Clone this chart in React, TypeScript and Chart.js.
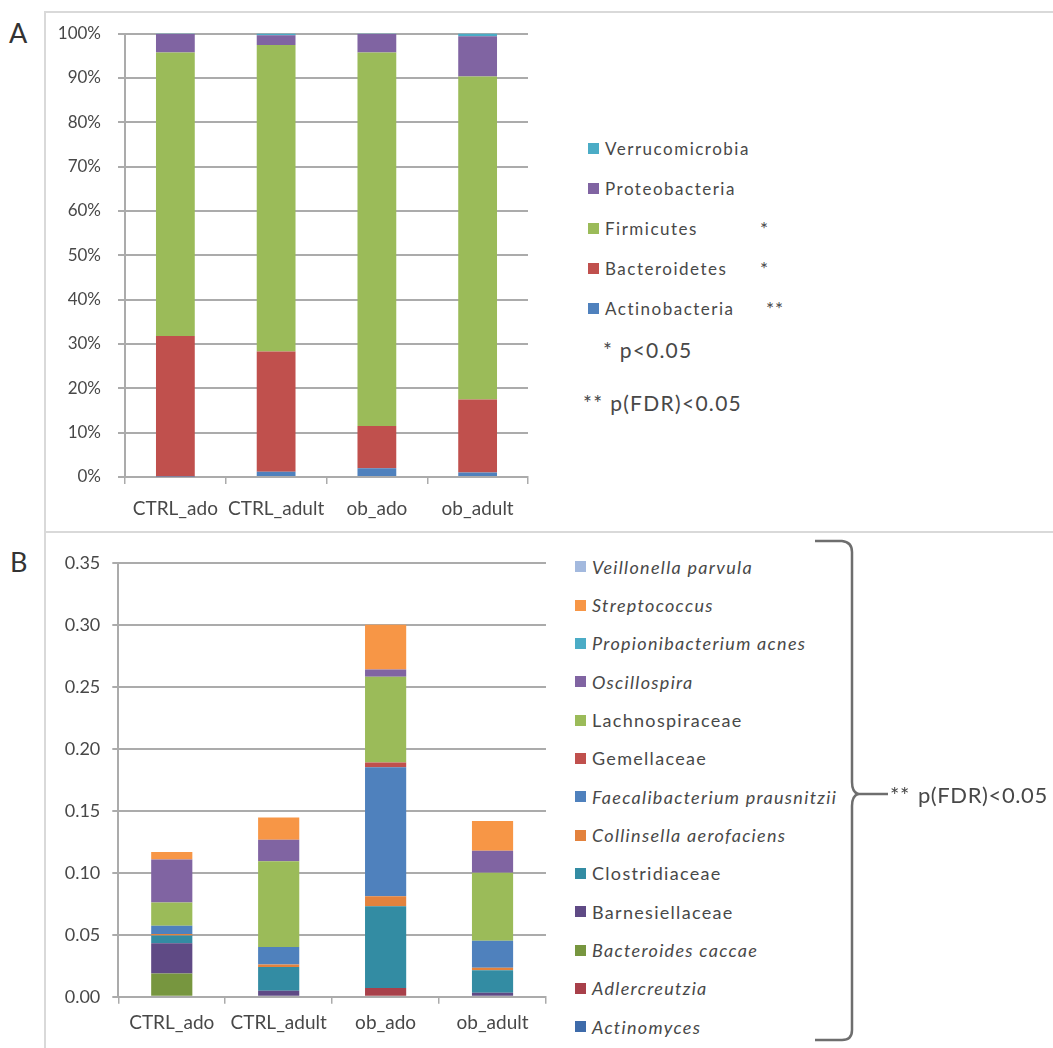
import React, { useEffect, useRef } from 'react';
import { Chart, registerables } from 'chart.js';

Chart.register(...registerables);

// ---------- shared categories ----------
const groups = ['CTRL_ado', 'CTRL_adult', 'ob_ado', 'ob_adult'];

// ---------- panel A: phyla (percent, stacked bottom -> top) ----------
const phyla = ['Actinobacteria', 'Bacteroidetes', 'Firmicutes', 'Proteobacteria', 'Verrucomicrobia'];
const phylumStars = ['**', '*', '*', '', ''];
const phylumColors = ['#4F81BD', '#C0504D', '#9BBB59', '#8064A2', '#4BACC6'];
const actinobacteria = [0.1, 1.2, 2.0, 1.0];
const bacteroidetes = [31.7, 27.1, 9.5, 16.5];
const firmicutes = [63.9, 69.1, 84.2, 72.8];
const proteobacteria = [4.2, 2.2, 4.2, 9.1];
const verrucomicrobia = [0.1, 0.4, 0.1, 0.6];
const phylumValues = [actinobacteria, bacteroidetes, firmicutes, proteobacteria, verrucomicrobia];
const percentTicks = [0, 10, 20, 30, 40, 50, 60, 70, 80, 90, 100];

// ---------- panel B: taxa (relative abundance, stacked bottom -> top) ----------
const taxa = [
  'Actinomyces',
  'Adlercreutzia',
  'Bacteroides caccae',
  'Barnesiellaceae',
  'Clostridiaceae',
  'Collinsella aerofaciens',
  'Faecalibacterium prausnitzii',
  'Gemellaceae',
  'Lachnospiraceae',
  'Oscillospira',
  'Propionibacterium acnes',
  'Streptococcus',
  'Veillonella parvula',
];
const taxaItalic = [true, true, true, false, false, true, true, false, false, true, true, true, true];
const taxaColors = [
  '#3E6BAA', '#A8404A', '#77963F', '#5F4A85', '#338CA3', '#E3823D', '#4F81BD',
  '#C0504D', '#9BBB59', '#8064A2', '#4BACC6', '#F79646', '#A3B9DE',
];
const actinomyces = [0, 0, 0, 0];
const adlercreutzia = [0, 0, 0.007, 0];
const bacteroidesCaccae = [0.0187, 0, 0, 0];
const barnesiellaceae = [0.0245, 0.0048, 0, 0.0032];
const clostridiaceae = [0.0061, 0.0192, 0.066, 0.0181];
const collinsella = [0.0013, 0.0019, 0.008, 0.002];
const faecalibacterium = [0.0067, 0.0141, 0.104, 0.0219];
const gemellaceae = [0, 0, 0.004, 0];
const lachnospiraceae = [0.0187, 0.0693, 0.069, 0.0547];
const oscillospira = [0.0347, 0.0173, 0.006, 0.0179];
const propionibacterium = [0, 0, 0, 0];
const streptococcus = [0.0061, 0.0179, 0.036, 0.024];
const veillonella = [0, 0, 0, 0];
const taxaValues = [
  actinomyces, adlercreutzia, bacteroidesCaccae, barnesiellaceae, clostridiaceae, collinsella,
  faecalibacterium, gemellaceae, lachnospiraceae, oscillospira, propionibacterium, streptococcus, veillonella,
];
const abundanceTicks = [0, 0.05, 0.1, 0.15, 0.2, 0.25, 0.3, 0.35];

// ---------- styling ----------
const FONT = 'Lato, "Open Sans", sans-serif';
const TEXT = '#484848';
const GRID = '#ababab';

function makeConfig(opts: {
  names: string[];
  colors: string[];
  values: number[][];
  ticks: number[];
  fmt: (v: number) => string;
  yWidth: number;
  xHeight: number;
  padTop: number;
  padRight: number;
  yPad: number;
  xPad: number;
  tickLen: number;
  xFont: number;
  yFont: number;
}): any {
  return {
    type: 'bar',
    data: {
      labels: groups,
      datasets: opts.names.map((n, i) => ({
        label: n,
        data: opts.values[i],
        backgroundColor: opts.colors[i],
        borderWidth: 0,
        categoryPercentage: 1,
        barPercentage: 0.385,
      })),
    },
    options: {
      animation: false,
      responsive: false,
      devicePixelRatio: 1,
      layout: { padding: { left: 0, right: opts.padRight, top: opts.padTop, bottom: 0 } },
      plugins: { legend: { display: false }, tooltip: { enabled: false } },
      scales: {
        x: {
          stacked: true,
          offset: true,
          grid: { display: true, drawOnChartArea: false, drawTicks: true, tickLength: 7, color: GRID, lineWidth: 1.5, offset: true },
          border: { display: true, color: GRID, width: 2 },
          ticks: { font: { family: FONT, size: opts.xFont }, color: TEXT, padding: opts.xPad, maxRotation: 0, autoSkip: false },
          afterFit: (s: any) => { s.height = opts.xHeight; },
        },
        y: {
          stacked: true,
          min: opts.ticks[0],
          max: opts.ticks[opts.ticks.length - 1],
          afterBuildTicks: (s: any) => { s.ticks = opts.ticks.map((v) => ({ value: v })); },
          ticks: { font: { family: FONT, size: opts.yFont }, color: TEXT, padding: opts.yPad, callback: (v: any) => opts.fmt(Number(v)) },
          grid: { color: GRID, lineWidth: 2, tickLength: opts.tickLen },
          border: { display: true, color: GRID, width: 2 },
          afterFit: (s: any) => { s.width = opts.yWidth; },
        },
      },
    },
  };
}

function ChartCanvas({ config, left, top, width, height }: any) {
  const ref = useRef<HTMLCanvasElement>(null);
  useEffect(() => {
    const chart = new Chart(ref.current as HTMLCanvasElement, config);
    return () => chart.destroy();
  }, []);
  return (
    <canvas
      ref={ref}
      width={width}
      height={height}
      style={{ position: 'absolute', left, top, width, height }}
    />
  );
}

function Swatch({ color }: { color: string }) {
  return <span style={{ display: 'inline-block', width: 11, height: 11, background: color, marginRight: 6, flex: '0 0 auto' }} />;
}

export default function App() {
  const configA = makeConfig({
    names: phyla,
    colors: phylumColors,
    values: phylumValues,
    ticks: percentTicks,
    fmt: (v) => `${Math.round(v)}%`,
    yWidth: 125,
    xHeight: 53,
    padTop: 33.5,
    padRight: 32,
    yPad: 17,
    xPad: 13,
    tickLen: 7,
    xFont: 19,
    yFont: 17,
  });
  const configB = makeConfig({
    names: taxa,
    colors: taxaColors,
    values: taxaValues,
    ticks: abundanceTicks,
    fmt: (v) => v.toFixed(2),
    yWidth: 118.3,
    xHeight: 51.3,
    padTop: 19.2,
    padRight: 14,
    yPad: 12,
    xPad: 8,
    tickLen: 6,
    xFont: 19,
    yFont: 18,
  });

  const legendA = phyla.map((n, i) => ({ n, c: phylumColors[i], s: phylumStars[i] })).reverse();
  const legendB = taxa.map((n, i) => ({ n, c: taxaColors[i], it: taxaItalic[i] })).reverse();

  return (
    <div
      style={{
        position: 'absolute', left: 0, top: 0, width: 1053, height: 1048,
        background: '#fff', overflow: 'hidden', fontFamily: FONT, color: TEXT,
      }}
    >
      {/* frame lines */}
      <div style={{ position: 'absolute', left: 44, top: 11, width: 2, height: 1037, background: '#d9d9d9' }} />
      <div style={{ position: 'absolute', left: 44, top: 11, width: 1009, height: 2, background: '#d9d9d9' }} />
      <div style={{ position: 'absolute', left: 44, top: 531, width: 1009, height: 2, background: '#d9d9d9' }} />

      {/* panel letters */}
      <div style={{ position: 'absolute', left: 9, top: 18, fontSize: 27, lineHeight: '30px', color: '#333' }}>A</div>
      <div style={{ position: 'absolute', left: 10, top: 547, fontSize: 27, lineHeight: '30px', color: '#333' }}>B</div>

      <ChartCanvas config={configA} left={0} top={0} width={560} height={530} />
      <ChartCanvas config={configB} left={0} top={540} width={560} height={508} />

      {/* legend A */}
      {legendA.map((e, k) => (
        <div key={e.n} style={{ position: 'absolute', left: 588, top: 148 + k * 40 - 12, height: 24, display: 'flex', alignItems: 'center', fontSize: 17, letterSpacing: '1.5px', whiteSpace: 'nowrap' }}>
          <Swatch color={e.c} />
          <span>{e.n}</span>
          {e.s ? <span style={{ position: 'absolute', left: e.s.length > 1 ? 178 : 172, fontSize: 19, letterSpacing: '1px' }}>{e.s}</span> : null}
        </div>
      ))}
      <div style={{ position: 'absolute', left: 603, top: 350 - 14, height: 28, lineHeight: '28px', fontSize: 21, letterSpacing: '1.2px', whiteSpace: 'nowrap' }}>* p&lt;0.05</div>
      <div style={{ position: 'absolute', left: 583, top: 403 - 14, height: 28, lineHeight: '28px', fontSize: 21, letterSpacing: '1.3px', whiteSpace: 'nowrap' }}>** p(FDR)&lt;0.05</div>

      {/* legend B */}
      {legendB.map((e, k) => (
        <div key={e.n} style={{ position: 'absolute', left: 575, top: 566.7 + k * 38.33 - 12, height: 24, display: 'flex', alignItems: 'center', fontSize: 18, letterSpacing: '1.3px', whiteSpace: 'nowrap', fontStyle: e.it ? 'italic' : 'normal' }}>
          <Swatch color={e.c} />
          <span>{e.n}</span>
        </div>
      ))}

      {/* bracket */}
      <svg width={1053} height={1048} style={{ position: 'absolute', left: 0, top: 0 }}>
        <path
          d="M815 541 L842 541 Q852 542 852 552 L852 782 Q852 792 858 794 Q852 796 852 806 L852 1030 Q852 1040 842 1040 L815 1040"
          fill="none" stroke="#6e6e6e" strokeWidth={2.5}
        />
        <line x1={858} y1={794} x2={888} y2={794} stroke="#6e6e6e" strokeWidth={2.5} />
      </svg>
      <div style={{ position: 'absolute', left: 890, top: 795 - 15, height: 30, lineHeight: '30px', fontSize: 22, letterSpacing: '0.6px', whiteSpace: 'nowrap' }}>
        **<span style={{ marginLeft: 8 }}>p(FDR)&lt;0.05</span>
      </div>
    </div>
  );
}
